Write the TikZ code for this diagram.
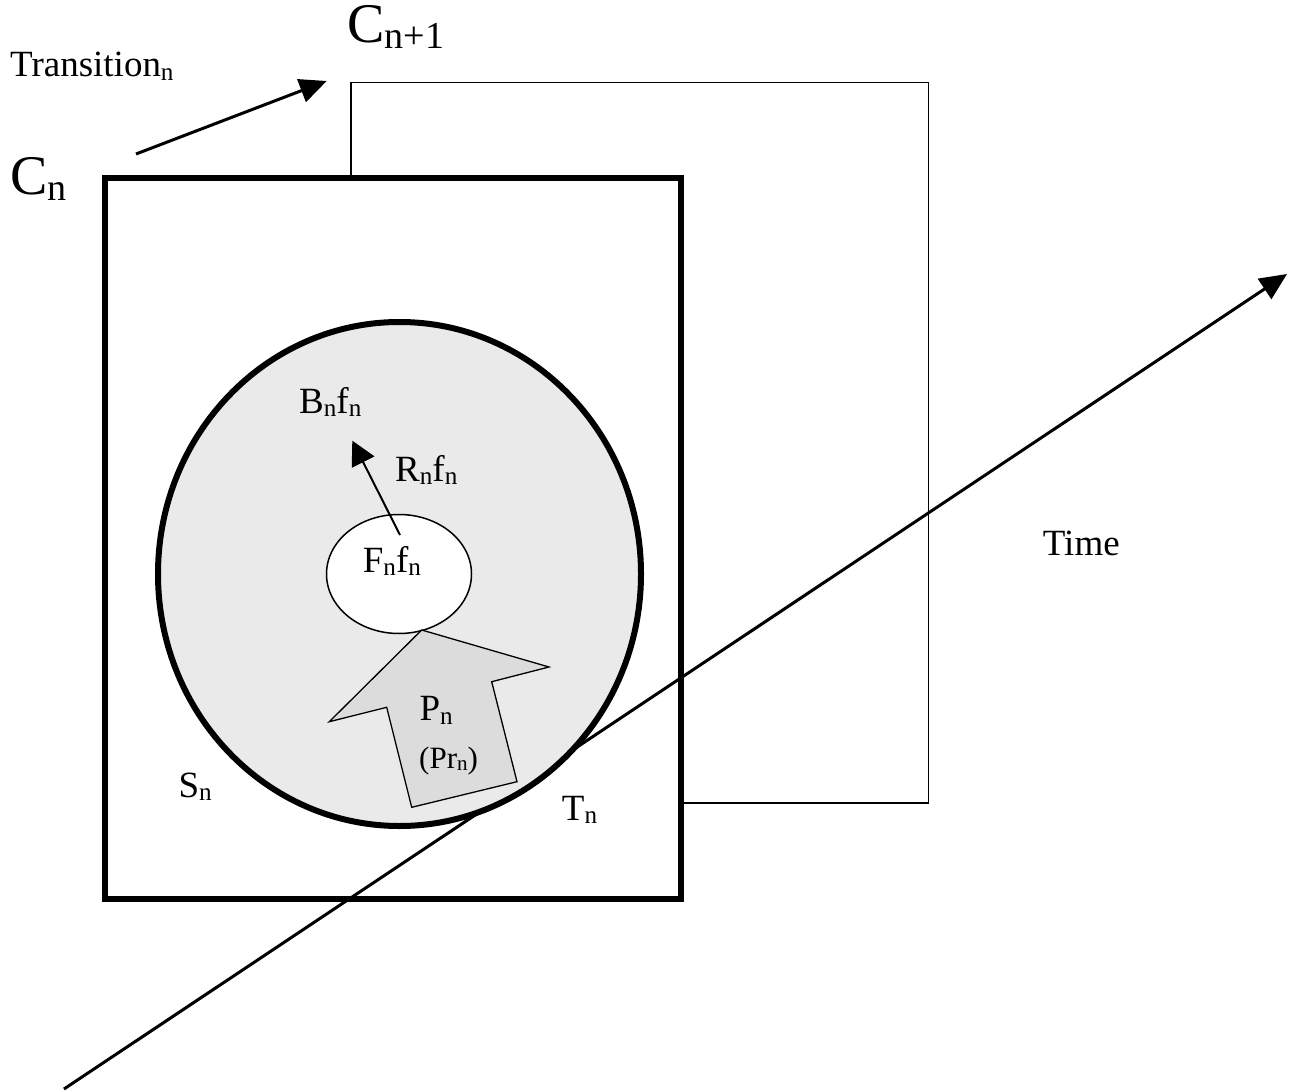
\documentclass[tikz,border=0pt]{standalone}
\usepackage{fontspec}
\setmainfont{Liberation Serif}
\usepackage{graphicx}
\usetikzlibrary{arrows.meta,shapes.geometric}
\newcommand\lowr[1]{\raisebox{-0.09em}{\scalebox{0.68}{#1}}}
\begin{document}
\begin{tikzpicture}[x=1pt,y=-1pt,
  txt/.style={inner sep=0pt,anchor=base west,font=\fontsize{37}{40}\selectfont},
  smalltxt/.style={inner sep=0pt,anchor=base west,font=\fontsize{31}{34}\selectfont},
  bigc/.style={inner sep=0pt,anchor=base west,font=\fontsize{56}{60}\selectfont},
  thinline/.style={draw=black,line width=1.3pt},
  thickline/.style={draw=black,line width=6pt},
  arrowline/.style={draw=black,line width=3pt,-{Triangle[length=27pt,width=24pt]}},
  smallarrow/.style={draw=black,line width=2pt,-{Triangle[length=24pt,width=25pt]}},
  ]
\useasboundingbox (0,0) rectangle (1298,1091);
% next configuration frame
\draw[thinline] (351,82.3) rectangle (928.7,803);
% current configuration frame
\draw[thickline,fill=white] (105,178.3) rectangle (681.3,899);
% time axis
\coordinate (tstart) at (64,1089);
\coordinate (tend) at (1287,274);
\draw[arrowline] (tstart) -- (tend);
% big ellipse
\node[thickline,fill={rgb,255:red,234;green,234;blue,234},ellipse,inner sep=0pt,outer sep=0pt,
  minimum width=483pt,minimum height=504pt] (body) at (399.5,574) {};
% small ellipse
\node[draw=black,line width=1.5pt,fill=white,ellipse,inner sep=0pt,outer sep=0pt,
  minimum width=145pt,minimum height=119pt] (core) at (399,574) {};
% big block arrow
\draw[thinline,fill={rgb,255:red,220;green,220;blue,220}]
  (421.7,630) -- (549,667) -- (491.7,681.7) -- (517,781.7) -- (411.7,807.3)
  -- (386.7,707.3) -- (329.3,721.7) -- cycle;
% R arrow
\coordinate (rstart) at (400,535);
\coordinate (rend) at (352.3,440.7);
\draw[smallarrow] (rstart) -- (rend);
% transition arrow
\coordinate (trstart) at (136,154);
\coordinate (trend) at (326.7,81);
\draw[arrowline] (trstart) -- (trend);
% texts
\node[txt] (trans) at (10,77) {Transition\lowr{n}};
\node[bigc] (cn1) at (347,43) {C\lowr{n+1}};
\node[bigc] (cn) at (10,195) {C\lowr{n}};
\node[txt] (bf) at (299,413) {B\lowr{n}f\lowr{n}};
\node[txt] (rf) at (395,481) {R\lowr{n}f\lowr{n}};
\node[txt] (ff) at (362.7,572.3) {F\lowr{n}f\lowr{n}};
\node[txt] (pn) at (419.3,720.7) {P\lowr{n}};
\node[smalltxt] (prn) at (419,768) {(Pr\lowr{n})};
\node[txt] (sn) at (178.3,797.3) {S\lowr{n}};
\node[txt] (tn) at (561.7,820) {T\lowr{n}};
\node[txt] (time) at (1042.7,555) {Time};
\end{tikzpicture}
\end{document}
